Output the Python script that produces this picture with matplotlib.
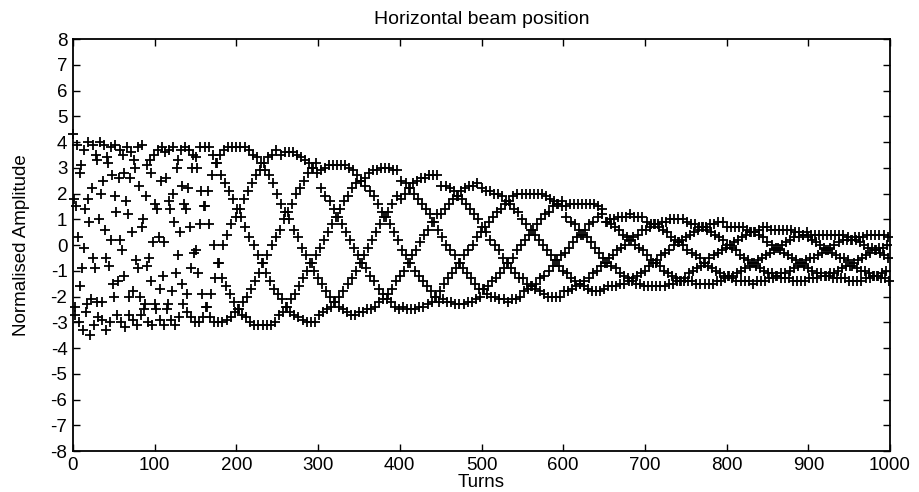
import numpy as np
import matplotlib
matplotlib.use("Agg")
import matplotlib.pyplot as plt

# Normalised horizontal beam position, one sample per turn.
# The turn-by-turn signal is stored as five interleaved strands:
# strand j holds turns j, j+5, j+10, ... (200 samples each).
strand0 = [
    4.3, 3.9, 3.1, 1.4, 0.9, -0.5, -2.2, -2.9, -3.3, -3.0,
    -2.0, -1.4, -0.2, 1.7, 2.6, 3.3, 3.8, 3.9, 3.1, 2.8,
    1.6, 0.3, -1.2, -2.5, -2.9, -3.1, -2.8, -2.3, -1.9, -0.9,
    -0.2, 0.8, 1.5, 2.1, 2.7, 3.2, 3.5, 3.7, 3.8, 3.8,
    3.8, 3.8, 3.8, 3.7, 3.5, 3.4, 3.2, 2.9, 2.7, 2.4,
    2.0, 1.6, 1.3, 1.0, 0.6, 0.3, -0.1, -0.4, -0.7, -1.0,
    -1.3, -1.5, -1.8, -2.0, -2.2, -2.4, -2.5, -2.6, -2.7, -2.7,
    -2.6, -2.6, -2.5, -2.5, -2.4, -2.2, -2.1, -1.9, -1.7, -1.4,
    -1.2, -1.0, -0.7, -0.4, -0.2, 0.1, 0.4, 0.6, 0.9, 1.2,
    1.2, 1.4, 1.6, 1.8, 1.9, 2.1, 2.2, 2.3, 2.3, 2.4,
    2.2, 2.1, 2.1, 2.0, 2.0, 1.9, 1.7, 1.6, 1.4, 1.3,
    1.0, 0.8, 0.6, 0.4, 0.2, 0.0, -0.2, -0.4, -0.6, -0.8,
    -1.0, -1.1, -1.3, -1.4, -1.5, -1.6, -1.7, -1.8, -1.8, -1.8,
    -1.7, -1.6, -1.6, -1.6, -1.5, -1.5, -1.4, -1.3, -1.2, -1.1,
    -1.0, -0.8, -0.7, -0.6, -0.4, -0.3, -0.2, 0.0, 0.1, 0.2,
    0.3, 0.4, 0.5, 0.6, 0.7, 0.7, 0.8, 0.8, 0.9, 0.9,
    0.7, 0.7, 0.7, 0.7, 0.7, 0.6, 0.5, 0.5, 0.4, 0.3,
    0.1, 0.0, -0.1, -0.2, -0.3, -0.4, -0.5, -0.6, -0.7, -0.8,
    -0.9, -1.0, -1.1, -1.1, -1.2, -1.2, -1.3, -1.3, -1.3, -1.3,
    -1.4, -1.4, -1.4, -1.4, -1.3, -1.3, -1.2, -1.2, -1.1, -1.0,
]
strand1 = [
    1.8, 0.3, -0.9, -2.6, -3.5, -3.1, -2.8, -2.2, -0.5, 0.2,
    1.9, 2.6, 3.5, 3.8, 3.6, 3.0, 2.3, 1.0, -0.8, -1.4,
    -2.3, -2.9, -3.1, -2.3, -1.8, -1.1, 0.5, 1.6, 2.2, 3.0,
    3.4, 3.8, 3.8, 3.8, 3.5, 3.2, 2.7, 2.4, 2.1, 1.8,
    1.4, 1.1, 0.7, 0.3, 0.0, -0.4, -0.7, -1.1, -1.4, -1.7,
    -1.9, -2.1, -2.4, -2.6, -2.7, -2.8, -2.9, -3.0, -3.0, -3.0,
    -2.7, -2.6, -2.5, -2.4, -2.2, -2.0, -1.8, -1.5, -1.3, -1.0,
    -0.7, -0.4, -0.1, 0.2, 0.5, 0.8, 1.1, 1.3, 1.6, 1.9,
    1.8, 2.0, 2.2, 2.4, 2.5, 2.6, 2.6, 2.7, 2.7, 2.7,
    2.3, 2.3, 2.2, 2.1, 1.9, 1.8, 1.6, 1.4, 1.2, 1.0,
    0.7, 0.5, 0.2, 0.0, -0.2, -0.5, -0.7, -0.9, -1.1, -1.3,
    -1.3, -1.5, -1.6, -1.7, -1.8, -1.9, -2.0, -2.0, -2.0, -2.0,
    -1.8, -1.8, -1.7, -1.6, -1.5, -1.4, -1.3, -1.1, -1.0, -0.8,
    -0.7, -0.5, -0.4, -0.2, -0.1, 0.0, 0.2, 0.3, 0.4, 0.6,
    0.6, 0.7, 0.8, 0.8, 0.9, 0.9, 1.0, 1.0, 1.0, 1.0,
    0.9, 0.8, 0.8, 0.7, 0.7, 0.6, 0.5, 0.4, 0.3, 0.2,
    0.0, -0.1, -0.2, -0.4, -0.5, -0.6, -0.7, -0.8, -0.9, -1.0,
    -1.1, -1.1, -1.2, -1.3, -1.3, -1.3, -1.4, -1.4, -1.4, -1.4,
    -1.3, -1.3, -1.3, -1.2, -1.2, -1.1, -1.1, -1.0, -0.9, -0.8,
    -0.8, -0.7, -0.6, -0.5, -0.4, -0.3, -0.2, -0.1, -0.1, 0.0,
]
strand2 = [
    -2.4, -3.0, -3.3, -2.3, -2.1, -0.9, 1.0, 2.5, 3.4, 3.8,
    3.9, 3.7, 2.8, 1.2, 0.5, -0.6, -2.0, -2.5, -3.0, -3.1,
    -2.5, -1.7, 0.1, 1.7, 2.0, 3.0, 3.7, 3.8, 3.7, 3.5,
    3.0, 2.1, 1.5, 0.8, 0.0, -0.7, -1.3, -1.6, -1.9, -2.2,
    -2.5, -2.7, -2.8, -3.0, -3.1, -3.1, -3.1, -3.1, -3.1, -3.0,
    -2.7, -2.6, -2.4, -2.1, -1.9, -1.6, -1.3, -1.0, -0.7, -0.4,
    -0.1, 0.2, 0.5, 0.8, 1.1, 1.4, 1.7, 1.9, 2.2, 2.4,
    2.5, 2.6, 2.8, 2.9, 2.9, 3.0, 3.0, 3.0, 2.9, 2.9,
    2.5, 2.4, 2.2, 2.0, 1.8, 1.6, 1.4, 1.2, 0.9, 0.6,
    0.3, 0.0, -0.2, -0.4, -0.7, -0.9, -1.1, -1.3, -1.5, -1.7,
    -1.7, -1.9, -2.0, -2.0, -2.1, -2.1, -2.2, -2.1, -2.1, -2.0,
    -1.8, -1.7, -1.6, -1.5, -1.3, -1.2, -1.0, -0.8, -0.6, -0.4,
    -0.3, -0.1, 0.1, 0.3, 0.4, 0.6, 0.8, 0.9, 1.1, 1.2,
    0.9, 1.0, 1.0, 1.1, 1.1, 1.1, 1.2, 1.1, 1.1, 1.1,
    0.9, 0.8, 0.8, 0.7, 0.6, 0.5, 0.3, 0.2, 0.1, 0.0,
    -0.2, -0.3, -0.4, -0.5, -0.7, -0.8, -0.9, -1.0, -1.1, -1.2,
    -1.2, -1.3, -1.4, -1.4, -1.4, -1.4, -1.5, -1.4, -1.4, -1.4,
    -1.3, -1.3, -1.2, -1.1, -1.1, -1.0, -0.9, -0.8, -0.7, -0.6,
    -0.5, -0.5, -0.4, -0.3, -0.2, -0.1, 0.0, 0.1, 0.2, 0.2,
    0.2, 0.3, 0.3, 0.3, 0.4, 0.4, 0.4, 0.4, 0.4, 0.3,
]
strand3 = [
    -2.7, -1.6, -0.1, 1.8, 2.2, 3.5, 4.0, 3.9, 3.2, 2.7,
    1.3, 0.2, -1.2, -2.7, -2.9, -3.1, -2.7, -2.3, -0.5, 0.1,
    1.4, 2.5, 3.6, 3.7, 3.8, 3.3, 2.3, 1.4, 0.7, -0.3,
    -1.1, -1.9, -2.4, -2.8, -3.0, -3.0, -3.0, -2.9, -2.8, -2.6,
    -2.5, -2.2, -2.0, -1.7, -1.4, -1.1, -0.7, -0.4, 0.0, 0.3,
    0.6, 1.0, 1.3, 1.6, 2.0, 2.2, 2.5, 2.8, 3.0, 3.2,
    2.9, 3.0, 3.1, 3.1, 3.1, 3.1, 3.1, 3.0, 2.9, 2.7,
    2.5, 2.3, 2.1, 1.9, 1.6, 1.3, 1.1, 0.8, 0.5, 0.2,
    -0.2, -0.4, -0.7, -1.0, -1.2, -1.4, -1.6, -1.8, -2.0, -2.2,
    -2.1, -2.2, -2.2, -2.3, -2.3, -2.3, -2.2, -2.2, -2.1, -2.0,
    -1.7, -1.6, -1.4, -1.3, -1.1, -0.9, -0.7, -0.5, -0.2, 0.0,
    0.2, 0.4, 0.6, 0.8, 1.0, 1.2, 1.3, 1.5, 1.6, 1.7,
    1.5, 1.6, 1.6, 1.6, 1.6, 1.6, 1.6, 1.6, 1.5, 1.4,
    0.9, 0.8, 0.7, 0.6, 0.4, 0.3, 0.2, 0.0, -0.1, -0.2,
    -0.4, -0.6, -0.7, -0.8, -1.0, -1.1, -1.2, -1.3, -1.4, -1.4,
    -1.4, -1.4, -1.5, -1.5, -1.5, -1.5, -1.5, -1.4, -1.4, -1.3,
    -1.2, -1.2, -1.1, -1.0, -0.9, -0.8, -0.7, -0.6, -0.5, -0.4,
    -0.3, -0.2, -0.1, 0.0, 0.1, 0.2, 0.3, 0.3, 0.4, 0.5,
    0.4, 0.4, 0.4, 0.4, 0.4, 0.4, 0.4, 0.4, 0.4, 0.3,
    0.2, 0.2, 0.1, 0.0, -0.1, -0.1, -0.2, -0.3, -0.4, -0.5,
]
strand4 = [
    1.5, 2.8, 3.7, 4.0, 3.9, 3.3, 2.0, 0.6, -0.8, -1.5,
    -2.7, -3.0, -3.2, -2.0, -1.8, -0.9, 0.7, 1.9, 3.3, 3.5,
    3.7, 3.8, 2.6, 1.4, 0.9, -0.4, -1.5, -2.6, -2.8, -3.0,
    -3.0, -2.8, -2.4, -1.9, -1.3, -0.7, 0.0, 0.4, 0.8, 1.1,
    1.4, 1.8, 2.1, 2.4, 2.7, 2.9, 3.2, 3.4, 3.5, 3.7,
    3.5, 3.6, 3.6, 3.6, 3.5, 3.4, 3.3, 3.2, 3.0, 2.8,
    2.2, 1.9, 1.7, 1.4, 1.1, 0.8, 0.5, 0.2, -0.1, -0.4,
    -0.7, -0.9, -1.2, -1.4, -1.7, -1.9, -2.1, -2.2, -2.4, -2.5,
    -2.4, -2.5, -2.5, -2.5, -2.4, -2.4, -2.3, -2.2, -2.0, -1.8,
    -1.5, -1.3, -1.1, -0.9, -0.7, -0.4, -0.2, 0.0, 0.3, 0.5,
    0.7, 0.9, 1.1, 1.3, 1.4, 1.6, 1.7, 1.9, 2.0, 2.0,
    2.0, 2.0, 2.0, 2.0, 2.0, 1.9, 1.8, 1.7, 1.6, 1.5,
    1.1, 0.9, 0.8, 0.6, 0.4, 0.3, 0.1, -0.1, -0.3, -0.5,
    -0.7, -0.8, -0.9, -1.1, -1.2, -1.3, -1.4, -1.5, -1.5, -1.6,
    -1.6, -1.6, -1.6, -1.6, -1.6, -1.5, -1.5, -1.4, -1.4, -1.3,
    -1.1, -1.0, -0.9, -0.8, -0.7, -0.5, -0.4, -0.3, -0.2, -0.1,
    0.0, 0.1, 0.2, 0.3, 0.4, 0.5, 0.5, 0.6, 0.7, 0.7,
    0.6, 0.6, 0.6, 0.6, 0.6, 0.6, 0.5, 0.5, 0.4, 0.3,
    0.2, 0.1, 0.0, -0.1, -0.2, -0.3, -0.4, -0.5, -0.5, -0.6,
    -0.8, -0.9, -1.0, -1.0, -1.1, -1.2, -1.2, -1.3, -1.3, -1.4,
]

x_ticks = list(range(0, 1001, 100))
y_ticks = list(range(-8, 9))
title_text = "Horizontal beam position"
x_label = "Turns"
y_label = "Normalised Amplitude"

# Rebuild the turn-by-turn series from the interleaved strands
strands = [strand0, strand1, strand2, strand3, strand4]
n_turns = 5 * len(strand0)
position = np.empty(n_turns)
for j, s in enumerate(strands):
    position[j::5] = s
turns = np.arange(n_turns)

plt.rcParams["font.family"] = ["Liberation Sans", "DejaVu Sans"]
plt.rcParams["axes.unicode_minus"] = False

fig = plt.figure(figsize=(9.19, 4.92), dpi=100)
ax = fig.add_axes([0.0794, 0.0833, 0.8891, 0.8374])

ax.plot(turns, position, linestyle="none", marker="+", color="black",
        markersize=6.5, markeredgewidth=1.3, clip_on=False)

ax.set_xlim(0, 1000)
ax.set_ylim(-8, 8)
ax.set_xticks(x_ticks)
ax.set_yticks(y_ticks)
ax.tick_params(direction="in", top=True, right=True, length=5, width=1.0,
               labelsize=13.5, pad=4)
for spine in ax.spines.values():
    spine.set_linewidth(1.3)

ax.set_title(title_text, fontsize=14, pad=11)
ax.set_xlabel(x_label, fontsize=13.5, labelpad=0)
ax.set_ylabel(y_label, fontsize=13.5, labelpad=15)

fig.savefig("out.png", dpi=100, facecolor="white")
